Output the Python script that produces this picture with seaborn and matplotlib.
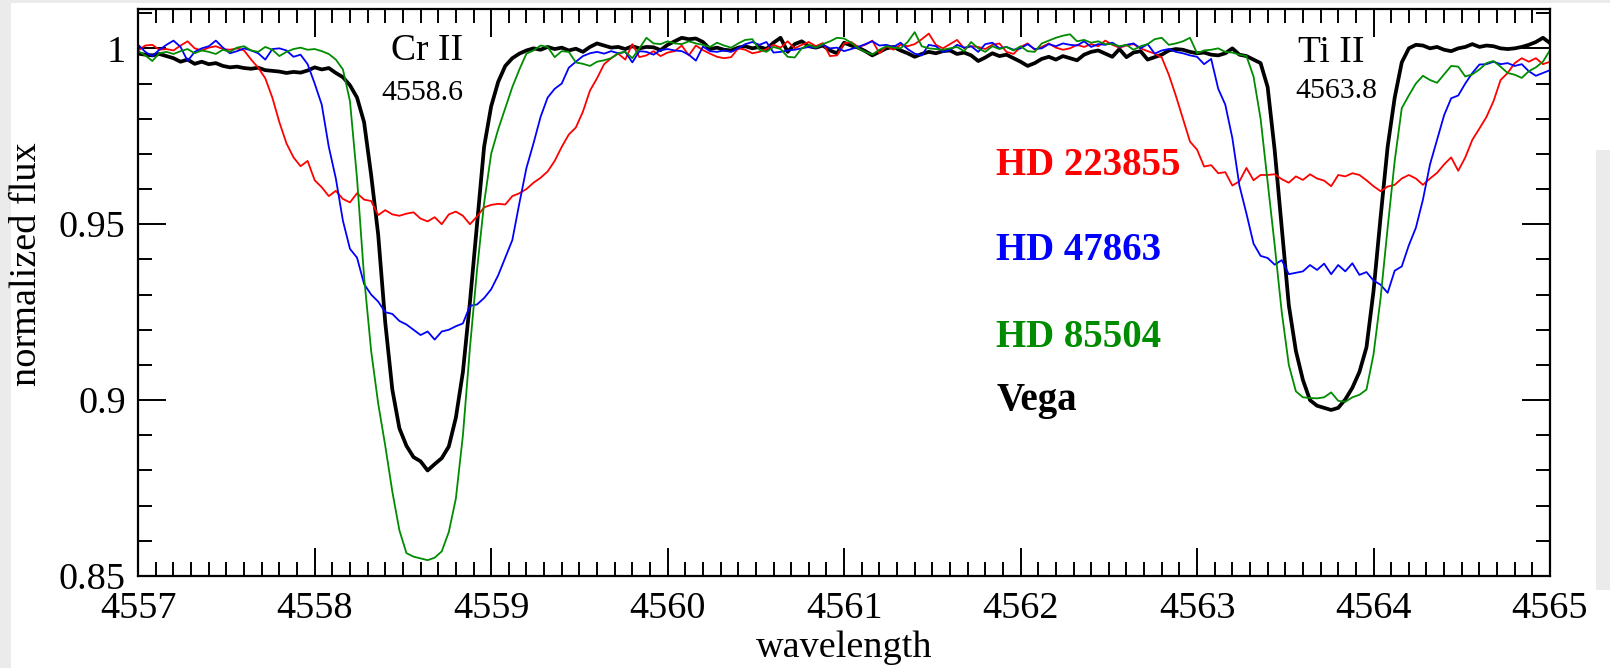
import matplotlib
matplotlib.use("Agg")
import matplotlib.pyplot as plt
import seaborn as sns
from matplotlib.ticker import MultipleLocator, FixedLocator
from matplotlib.patches import Rectangle

# ---------------- data ----------------
wavelength = [
    4557.00, 4557.04, 4557.08, 4557.12, 4557.16, 4557.20, 4557.24, 4557.28, 4557.32, 4557.36, 4557.40, 4557.44, 4557.48,
    4557.52, 4557.56, 4557.60, 4557.64, 4557.68, 4557.72, 4557.76, 4557.80, 4557.84, 4557.88, 4557.92, 4557.96,
    4558.00, 4558.04, 4558.08, 4558.12, 4558.16, 4558.20, 4558.24, 4558.28, 4558.32, 4558.36, 4558.40, 4558.44, 4558.48,
    4558.52, 4558.56, 4558.60, 4558.64, 4558.68, 4558.72, 4558.76, 4558.80, 4558.84, 4558.88, 4558.92, 4558.96,
    4559.00, 4559.04, 4559.08, 4559.12, 4559.16, 4559.20, 4559.24, 4559.28, 4559.32, 4559.36, 4559.40, 4559.44, 4559.48,
    4559.52, 4559.56, 4559.60, 4559.64, 4559.68, 4559.72, 4559.76, 4559.80, 4559.84, 4559.88, 4559.92, 4559.96,
    4560.00, 4560.04, 4560.08, 4560.12, 4560.16, 4560.20, 4560.24, 4560.28, 4560.32, 4560.36, 4560.40, 4560.44, 4560.48,
    4560.52, 4560.56, 4560.60, 4560.64, 4560.68, 4560.72, 4560.76, 4560.80, 4560.84, 4560.88, 4560.92, 4560.96,
    4561.00, 4561.04, 4561.08, 4561.12, 4561.16, 4561.20, 4561.24, 4561.28, 4561.32, 4561.36, 4561.40, 4561.44, 4561.48,
    4561.52, 4561.56, 4561.60, 4561.64, 4561.68, 4561.72, 4561.76, 4561.80, 4561.84, 4561.88, 4561.92, 4561.96,
    4562.00, 4562.04, 4562.08, 4562.12, 4562.16, 4562.20, 4562.24, 4562.28, 4562.32, 4562.36, 4562.40, 4562.44, 4562.48,
    4562.52, 4562.56, 4562.60, 4562.64, 4562.68, 4562.72, 4562.76, 4562.80, 4562.84, 4562.88, 4562.92, 4562.96,
    4563.00, 4563.04, 4563.08, 4563.12, 4563.16, 4563.20, 4563.24, 4563.28, 4563.32, 4563.36, 4563.40, 4563.44, 4563.48,
    4563.52, 4563.56, 4563.60, 4563.64, 4563.68, 4563.72, 4563.76, 4563.80, 4563.84, 4563.88, 4563.92, 4563.96,
    4564.00, 4564.04, 4564.08, 4564.12, 4564.16, 4564.20, 4564.24, 4564.28, 4564.32, 4564.36, 4564.40, 4564.44, 4564.48,
    4564.52, 4564.56, 4564.60, 4564.64, 4564.68, 4564.72, 4564.76, 4564.80, 4564.84, 4564.88, 4564.92, 4564.96,
    4565.00,
]

flux_vega = [
    0.9985, 0.9982, 0.9980, 0.9984, 0.9978, 0.9972, 0.9962, 0.9968, 0.9956, 0.9962, 0.9955, 0.9958, 0.9950,
    0.9946, 0.9948, 0.9944, 0.9942, 0.9945, 0.9938, 0.9936, 0.9934, 0.9930, 0.9933, 0.9931, 0.9937,
    0.9946, 0.9940, 0.9944, 0.9930, 0.9918, 0.9895, 0.9860, 0.9790, 0.9640, 0.9470, 0.9220, 0.9030, 0.8920,
    0.8870, 0.8838, 0.8826, 0.8800, 0.8818, 0.8835, 0.8868, 0.8950, 0.9080, 0.9280, 0.9500, 0.9720,
    0.9835, 0.9905, 0.9950, 0.9972, 0.9985, 0.9994, 1.0000, 0.9996, 1.0004, 0.9998, 1.0002, 0.9994, 0.9999,
    0.9990, 1.0004, 1.0014, 1.0008, 1.0002, 1.0004, 0.9998, 1.0006, 1.0000, 1.0004, 1.0003, 0.9995,
    1.0010, 1.0020, 1.0030, 1.0026, 1.0028, 1.0018, 0.9998, 1.0002, 0.9996, 0.9994, 1.0002, 1.0006, 1.0000,
    1.0004, 0.9998, 1.0016, 1.0030, 0.9990, 1.0012, 1.0020, 1.0006, 1.0002, 1.0008, 0.9994, 0.9986,
    1.0016, 1.0008, 1.0002, 0.9992, 0.9980, 0.9990, 1.0000, 1.0004, 0.9994, 0.9986, 0.9976, 0.9984, 0.9990,
    0.9986, 0.9992, 0.9994, 0.9984, 0.9988, 0.9980, 0.9964, 0.9974, 0.9986, 0.9978, 0.9982, 0.9972,
    0.9962, 0.9950, 0.9958, 0.9970, 0.9976, 0.9968, 0.9978, 0.9972, 0.9966, 0.9982, 0.9990, 0.9994, 0.9985,
    0.9976, 0.9998, 0.9975, 0.9988, 0.9992, 0.9968, 0.9975, 0.9982, 0.9994, 0.9998, 0.9996, 0.9990,
    0.9986, 0.9988, 0.9982, 0.9980, 0.9986, 1.0000, 0.9982, 0.9978, 0.9968, 0.9958, 0.9890, 0.9710, 0.9490,
    0.9270, 0.9140, 0.9057, 0.9000, 0.8984, 0.8978, 0.8972, 0.8978, 0.9002, 0.9035, 0.9080, 0.9150,
    0.9310, 0.9520, 0.9720, 0.9860, 0.9960, 1.0000, 1.0010, 1.0008, 1.0000, 1.0004, 0.9996, 0.9992, 1.0000,
    1.0004, 1.0012, 1.0004, 1.0008, 1.0006, 1.0000, 0.9998, 1.0000, 1.0004, 1.0010, 1.0018, 1.0030,
    1.0015,
]

flux_hd85504 = [
    0.9992, 0.9980, 0.9964, 0.9986, 0.9990, 0.9984, 0.9992, 0.9998, 0.9986, 0.9994, 0.9990, 0.9984, 0.9996,
    0.9990, 1.0002, 1.0006, 0.9994, 0.9990, 1.0004, 0.9996, 0.9978, 0.9990, 0.9998, 1.0002, 0.9996,
    0.9998, 0.9992, 0.9984, 0.9968, 0.9940, 0.9850, 0.9630, 0.9350, 0.9140, 0.8990, 0.8870, 0.8740, 0.8630,
    0.8565, 0.8555, 0.8550, 0.8545, 0.8552, 0.8570, 0.8625, 0.8720, 0.8900, 0.9150, 0.9370, 0.9560,
    0.9700, 0.9770, 0.9830, 0.9890, 0.9940, 0.9985, 0.9994, 1.0008, 1.0004, 0.9975, 0.9992, 0.9990, 0.9960,
    0.9956, 0.9950, 0.9962, 0.9966, 0.9972, 0.9986, 0.9990, 0.9972, 1.0000, 1.0030, 1.0014, 1.0012,
    1.0020, 1.0014, 1.0012, 1.0020, 1.0014, 1.0010, 1.0004, 1.0016, 1.0008, 1.0002, 1.0014, 1.0024, 1.0026,
    0.9996, 0.9990, 1.0004, 0.9998, 0.9976, 0.9974, 1.0000, 1.0010, 1.0002, 1.0012, 1.0020, 1.0030,
    1.0028, 1.0016, 1.0000, 0.9990, 0.9982, 0.9996, 1.0006, 1.0002, 1.0000, 1.0018, 1.0046, 1.0006, 1.0000,
    0.9998, 0.9996, 1.0000, 1.0004, 0.9992, 1.0018, 1.0000, 0.9990, 1.0006, 0.9998, 1.0004, 0.9994,
    1.0006, 0.9992, 0.9990, 1.0014, 1.0022, 1.0030, 1.0036, 1.0040, 1.0020, 1.0024, 1.0016, 1.0020, 1.0012,
    1.0012, 1.0006, 1.0010, 0.9996, 1.0006, 1.0012, 1.0026, 1.0030, 1.0010, 1.0014, 1.0020, 1.0030,
    0.9986, 0.9994, 0.9996, 1.0000, 0.9990, 0.9988, 0.9982, 0.9978, 0.9920, 0.9800, 0.9620, 0.9440, 0.9250,
    0.9100, 0.9025, 0.9008, 0.9006, 0.9005, 0.9008, 0.9022, 0.8998, 0.8995, 0.9008, 0.9015, 0.9030,
    0.9130, 0.9290, 0.9490, 0.9680, 0.9830, 0.9866, 0.9900, 0.9922, 0.9910, 0.9902, 0.9926, 0.9950, 0.9948,
    0.9920, 0.9926, 0.9940, 0.9958, 0.9964, 0.9948, 0.9930, 0.9925, 0.9916, 0.9935, 0.9946, 0.9962,
    0.9995,
]

flux_hd47863 = [
    1.0010, 0.9990, 0.9978, 0.9996, 1.0010, 1.0022, 1.0004, 0.9964, 0.9990, 1.0000, 1.0006, 1.0022, 1.0002,
    0.9986, 0.9992, 1.0000, 0.9994, 0.9986, 0.9968, 0.9998, 1.0000, 0.9994, 0.9976, 0.9982, 0.9955,
    0.9900, 0.9840, 0.9720, 0.9630, 0.9510, 0.9430, 0.9405, 0.9330, 0.9300, 0.9280, 0.9250, 0.9245, 0.9225,
    0.9215, 0.9200, 0.9185, 0.9195, 0.9172, 0.9195, 0.9200, 0.9210, 0.9218, 0.9268, 0.9272, 0.9290,
    0.9315, 0.9355, 0.9405, 0.9455, 0.9560, 0.9660, 0.9730, 0.9805, 0.9860, 0.9885, 0.9900, 0.9945, 0.9962,
    0.9978, 0.9986, 0.9990, 0.9985, 0.9992, 0.9986, 0.9990, 0.9960, 0.9992, 0.9990, 0.9982, 0.9995,
    0.9998, 0.9994, 0.9992, 0.9982, 0.9965, 1.0005, 0.9992, 0.9990, 0.9994, 0.9990, 1.0000, 1.0012, 1.0018,
    1.0010, 1.0018, 0.9988, 0.9990, 0.9994, 0.9996, 1.0000, 1.0004, 1.0002, 1.0010, 1.0000, 1.0002,
    0.9992, 0.9998, 1.0004, 1.0012, 1.0020, 1.0008, 1.0010, 1.0004, 1.0016, 0.9998, 0.9985, 0.9980, 1.0010,
    1.0006, 0.9990, 0.9995, 1.0010, 1.0002, 1.0006, 0.9990, 1.0012, 1.0016, 1.0000, 1.0004, 0.9996,
    1.0000, 1.0012, 0.9998, 1.0000, 1.0012, 1.0006, 1.0014, 1.0010, 1.0008, 1.0020, 1.0004, 1.0012, 1.0010,
    1.0016, 1.0004, 1.0010, 1.0014, 1.0000, 1.0012, 0.9985, 0.9994, 0.9998, 0.9990, 0.9986, 0.9980,
    0.9976, 0.9955, 0.9970, 0.9885, 0.9840, 0.9745, 0.9610, 0.9530, 0.9445, 0.9410, 0.9404, 0.9385, 0.9398,
    0.9358, 0.9362, 0.9366, 0.9384, 0.9370, 0.9388, 0.9358, 0.9384, 0.9366, 0.9389, 0.9356, 0.9364,
    0.9340, 0.9328, 0.9305, 0.9368, 0.9380, 0.9440, 0.9490, 0.9570, 0.9670, 0.9740, 0.9810, 0.9858, 0.9866,
    0.9900, 0.9930, 0.9954, 0.9955, 0.9962, 0.9955, 0.9958, 0.9950, 0.9955, 0.9935, 0.9922, 0.9930,
    0.9938,
]

flux_hd223855 = [
    0.9994, 1.0008, 1.0010, 0.9996, 0.9998, 0.9994, 1.0008, 1.0020, 1.0000, 0.9994, 1.0002, 1.0006, 0.9998,
    0.9996, 1.0000, 0.9994, 0.9968, 0.9945, 0.9915, 0.9860, 0.9790, 0.9730, 0.9690, 0.9665, 0.9680,
    0.9625, 0.9605, 0.9580, 0.9595, 0.9572, 0.9562, 0.9588, 0.9570, 0.9566, 0.9526, 0.9540, 0.9528, 0.9524,
    0.9530, 0.9534, 0.9516, 0.9508, 0.9520, 0.9500, 0.9528, 0.9536, 0.9524, 0.9500, 0.9522, 0.9548,
    0.9555, 0.9558, 0.9556, 0.9580, 0.9588, 0.9600, 0.9618, 0.9632, 0.9650, 0.9680, 0.9720, 0.9755, 0.9775,
    0.9820, 0.9880, 0.9915, 0.9955, 0.9972, 0.9985, 0.9968, 1.0012, 0.9975, 0.9980, 0.9992, 0.9978,
    0.9988, 0.9992, 1.0008, 0.9980, 1.0008, 0.9995, 0.9985, 0.9976, 0.9972, 0.9975, 1.0000, 0.9996, 0.9986,
    0.9990, 0.9998, 1.0010, 1.0002, 1.0020, 1.0000, 1.0010, 1.0018, 1.0006, 1.0015, 0.9978, 0.9980,
    1.0014, 1.0018, 1.0004, 1.0010, 1.0022, 0.9986, 1.0006, 0.9996, 1.0010, 1.0006, 1.0012, 1.0026, 1.0042,
    1.0010, 1.0000, 1.0012, 1.0024, 1.0000, 1.0006, 1.0004, 0.9998, 1.0010, 1.0014, 0.9990, 0.9984,
    1.0004, 1.0014, 0.9996, 1.0004, 1.0014, 1.0002, 0.9996, 1.0000, 1.0010, 1.0004, 1.0012, 1.0006, 1.0022,
    1.0010, 1.0002, 1.0008, 1.0012, 1.0000, 0.9992, 0.9985, 0.9974, 0.9925, 0.9865, 0.9800, 0.9735,
    0.9712, 0.9664, 0.9668, 0.9645, 0.9648, 0.9610, 0.9622, 0.9660, 0.9625, 0.9640, 0.9640, 0.9642, 0.9628,
    0.9618, 0.9636, 0.9626, 0.9642, 0.9630, 0.9624, 0.9608, 0.9640, 0.9636, 0.9645, 0.9640, 0.9625,
    0.9608, 0.9594, 0.9607, 0.9612, 0.9630, 0.9640, 0.9630, 0.9612, 0.9630, 0.9646, 0.9670, 0.9690, 0.9652,
    0.9690, 0.9740, 0.9772, 0.9805, 0.9850, 0.9910, 0.9930, 0.9958, 0.9972, 0.9962, 0.9972, 0.9955,
    0.9962,
]

star_names = ["HD 223855", "HD 47863", "HD 85504", "Vega"]
star_colors = ["#ff0000", "#0000ff", "#008c00", "#000000"]
label_baselines = [0.9640, 0.9398, 0.9151, 0.8972]

x_ticks = [4557, 4558, 4559, 4560, 4561, 4562, 4563, 4564, 4565]
x_tick_labels = ["4557", "4558", "4559", "4560", "4561", "4562", "4563", "4564", "4565"]
y_ticks = [0.85, 0.90, 0.95, 1.00]
y_tick_labels = ["0.85", "0.9", "0.95", "1"]

line_names = ["Cr II", "Ti II"]
line_wavelengths = ["4558.6", "4563.8"]

# ---------------- style ----------------
sns.set_theme(style="white")
plt.rcParams["font.family"] = ["Liberation Serif", "DejaVu Serif"]

W, H = 1610, 668
fig = plt.figure(figsize=(W / 100, H / 100), dpi=100, facecolor="#ebebeb")
# slide-like background: light grey margins around a white page
fig.add_artist(Rectangle((11 / W, 0), 1 - 11 / W, 1 - 3 / H, transform=fig.transFigure,
                         facecolor="white", edgecolor="none", zorder=-5))
fig.add_artist(Rectangle((1596 / W, 1 - 590 / H), 14 / W, 440 / H, transform=fig.transFigure,
                         facecolor="#ebebeb", edgecolor="none", zorder=-4))

ax = fig.add_axes([138.2 / W, (H - 576) / H, 1411.8 / W, 566.7 / H])
ax.set_facecolor("white")

series = [flux_hd223855, flux_hd47863, flux_hd85504, flux_vega]

# Vega first (thick black), coloured spectra drawn on top
sns.lineplot(x=wavelength, y=flux_vega, ax=ax, color=star_colors[3], linewidth=2.7,
             estimator=None, sort=False)
for flux, col in zip(series[:3], star_colors[:3]):
    sns.lineplot(x=wavelength, y=flux, ax=ax, color=col, linewidth=1.3,
                 estimator=None, sort=False)

ax.set_xlim(4557, 4565)
ax.set_ylim(0.85, 1.0111)

ax.xaxis.set_major_locator(FixedLocator(x_ticks))
ax.set_xticklabels(x_tick_labels)
ax.yaxis.set_major_locator(FixedLocator(y_ticks))
ax.set_yticklabels(y_tick_labels)
ax.xaxis.set_minor_locator(MultipleLocator(0.1))
ax.yaxis.set_minor_locator(MultipleLocator(0.01))

ax.tick_params(which="both", direction="in", top=True, right=True, bottom=True, left=True,
               colors="black", width=1.4, labelsize=27.5)
ax.tick_params(which="major", length=20)
ax.tick_params(which="minor", length=10)
ax.tick_params(axis="x", which="major", pad=11)
ax.tick_params(axis="y", which="major", pad=9)

for sp in ax.spines.values():
    sp.set_color("black")
    sp.set_linewidth(1.6)
    sp.set_visible(True)

ax.set_xlabel("wavelength", fontsize=27.5, color="black")
ax.set_ylabel("normalized flux", fontsize=27.5, color="black")
ax.xaxis.set_label_coords(0.5, -0.097)
ax.yaxis.set_label_coords(-0.0667, 0.55)

# line identifications
ax.text(4558.635, 0.9967, line_names[0], ha="center", va="baseline", fontsize=27, color="black")
ax.text(4558.61, 0.9853, line_wavelengths[0], ha="center", va="baseline", fontsize=21.5, color="black")
ax.text(4563.76, 0.9961, line_names[1], ha="center", va="baseline", fontsize=27, color="black")
ax.text(4563.79, 0.9858, line_wavelengths[1], ha="center", va="baseline", fontsize=21.5, color="black")

# star labels
for name, col, yb in zip(star_names, star_colors, label_baselines):
    ax.text(4561.863, yb, name, ha="left", va="baseline", fontsize=28,
            fontweight="bold", color=col)

fig.savefig("out.png", dpi=100, facecolor=fig.get_facecolor())
